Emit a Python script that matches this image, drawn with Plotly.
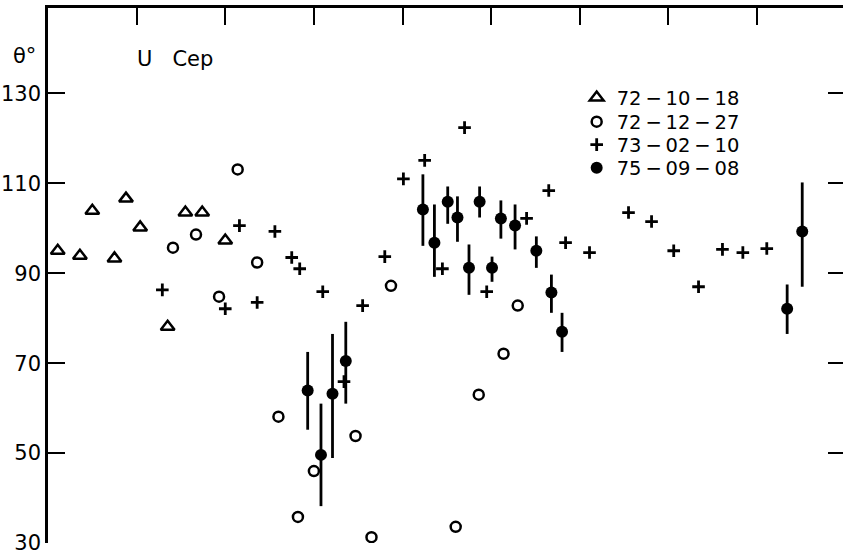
import plotly.graph_objects as go

# 72-10-18 (open triangles)
tri_x = [0.11, 0.36, 0.50, 0.75, 0.88, 1.04, 1.35, 1.55, 1.74, 2.00]
tri_y = [95.0, 93.9, 103.9, 93.3, 106.6, 100.2, 78.1, 103.5, 103.5, 97.3]

# 72-12-27 (open circles)
cir_x = [1.41, 1.67, 1.93, 2.14, 2.36, 2.60, 2.82, 3.00, 3.47, 3.65, 3.87, 4.60, 4.86, 5.14, 5.30]
cir_y = [95.7, 98.6, 84.8, 113.1, 92.4, 58.1, 35.8, 46.0, 53.8, 31.3, 87.2, 33.6, 63.0, 72.1, 82.8]

# 73-02-10 (plus signs)
plus_x = [1.29, 2.00, 2.16, 2.36, 2.56, 2.75, 2.84, 3.10, 3.34, 3.55, 3.80, 4.01, 4.25, 4.45,
          4.70, 4.95, 5.40, 5.65, 5.84, 6.11, 6.55, 6.81, 7.06, 7.34, 7.61, 7.84, 8.11]
plus_y = [86.3, 82.1, 100.6, 83.5, 99.3, 93.5, 91.0, 85.9, 65.9, 82.8, 93.7, 111.0, 115.1, 91.0,
          122.4, 85.9, 102.2, 108.4, 96.8, 94.6, 103.5, 101.5, 95.0, 87.0, 95.3, 94.6, 95.5]

# 75-09-08 (filled circles with error bars)
dot_x = [2.93, 3.08, 3.21, 3.36, 4.23, 4.36, 4.51, 4.62, 4.75, 4.87, 5.01, 5.11, 5.27,
         5.51, 5.68, 5.80, 8.34, 8.51]
dot_y = [63.9, 49.6, 63.2, 70.5, 104.2, 96.8, 105.9, 102.4, 91.2, 105.9, 91.2, 102.2, 100.6,
         95.0, 85.7, 77.0, 82.1, 99.3]
dot_lo = [55.2, 38.2, 48.9, 61.0, 96.1, 89.2, 101.0, 97.0, 85.2, 102.4, 88.1, 97.7, 95.3,
          91.2, 81.2, 72.5, 76.5, 87.0]
dot_hi = [72.5, 61.0, 76.5, 79.2, 112.0, 105.3, 109.3, 107.1, 96.4, 109.3, 93.7, 106.2, 105.3,
          98.2, 89.7, 81.2, 87.5, 110.2]

series_names = ["72\u2009−\u200910\u2009−\u200918", "72\u2009−\u200912\u2009−\u200927",
                "73\u2009−\u200902\u2009−\u200910", "75\u2009−\u200909\u2009−\u200908"]
y_ticks = [30, 50, 70, 90, 110, 130]
x_ticks = [1, 2, 3, 4, 5, 6, 7, 8]

FONT = "DejaVu Sans"

fig = go.Figure()
fig.add_trace(go.Scatter(
    x=tri_x, y=tri_y, mode="markers", name=series_names[0], legend="legend",
    marker=dict(symbol="triangle-up-open", size=12, color="black", line=dict(width=2.5, color="black"))))
fig.add_trace(go.Scatter(
    x=cir_x, y=cir_y, mode="markers", name=series_names[1], legend="legend2",
    marker=dict(symbol="circle-open", size=10, color="black", line=dict(width=2.5, color="black"))))
fig.add_trace(go.Scatter(
    x=plus_x, y=plus_y, mode="markers", name=series_names[2], legend="legend3",
    marker=dict(symbol="cross-thin-open", size=9, color="black", line=dict(width=2.8, color="black"))))
fig.add_trace(go.Scatter(
    x=dot_x, y=dot_y, mode="markers", name=series_names[3], legend="legend4",
    marker=dict(symbol="circle", size=12, color="black"),
    error_y=dict(type="data", symmetric=False,
                 array=[h - v for h, v in zip(dot_hi, dot_y)],
                 arrayminus=[v - l for v, l in zip(dot_y, dot_lo)],
                 width=0, thickness=2.8, color="black")))
fig.add_trace(go.Scatter(x=[], y=[], yaxis="y2", showlegend=False, hoverinfo="skip"))

legend_rows = [0.832, 0.787, 0.744, 0.701]
def leg(yv):
    return dict(x=0.665, y=yv, xanchor="left", yanchor="middle",
                bgcolor="rgba(0,0,0,0)", font=dict(size=19.5, family=FONT))

fig.update_layout(
    width=843, height=558,
    margin=dict(l=48, r=0, t=8, b=15),
    paper_bgcolor="white", plot_bgcolor="white",
    font=dict(family=FONT, size=20, color="black"),
    showlegend=True,
    legend=leg(legend_rows[0]),
    legend2=leg(legend_rows[1]),
    legend3=leg(legend_rows[2]),
    legend4=leg(legend_rows[3]),
    xaxis=dict(range=[0, 8.97], side="top", showline=True, linecolor="black", linewidth=2.5,
               ticks="inside", ticklen=17, tickwidth=2, tickcolor="black",
               tickvals=x_ticks, showticklabels=False, showgrid=False, zeroline=False),
    yaxis=dict(range=[30, 149], showline=True, linecolor="black", linewidth=2.5,
               ticks="inside", ticklen=17, tickwidth=2, tickcolor="black",
               tickvals=y_ticks, ticktext=[str(v) for v in y_ticks],
               tickfont=dict(size=21, family=FONT),
               showgrid=False, zeroline=False),
    yaxis2=dict(range=[30, 149], overlaying="y", side="right", anchor="x",
                ticks="inside", ticklen=15, tickwidth=2, tickcolor="black",
                tickvals=y_ticks, showticklabels=False, showline=False,
                showgrid=False, zeroline=False),
    annotations=[
        dict(x=-0.029, y=0.91, xref="paper", yref="paper", text="θ°", showarrow=False,
             xanchor="center", yanchor="middle", font=dict(size=21, family=FONT)),
        dict(x=1.43, y=137.6, xref="x", yref="y", text="U\u00a0\u00a0\u00a0Cep", showarrow=False,
             font=dict(size=21, family=FONT)),
    ],
)

fig.write_html("out.html")
